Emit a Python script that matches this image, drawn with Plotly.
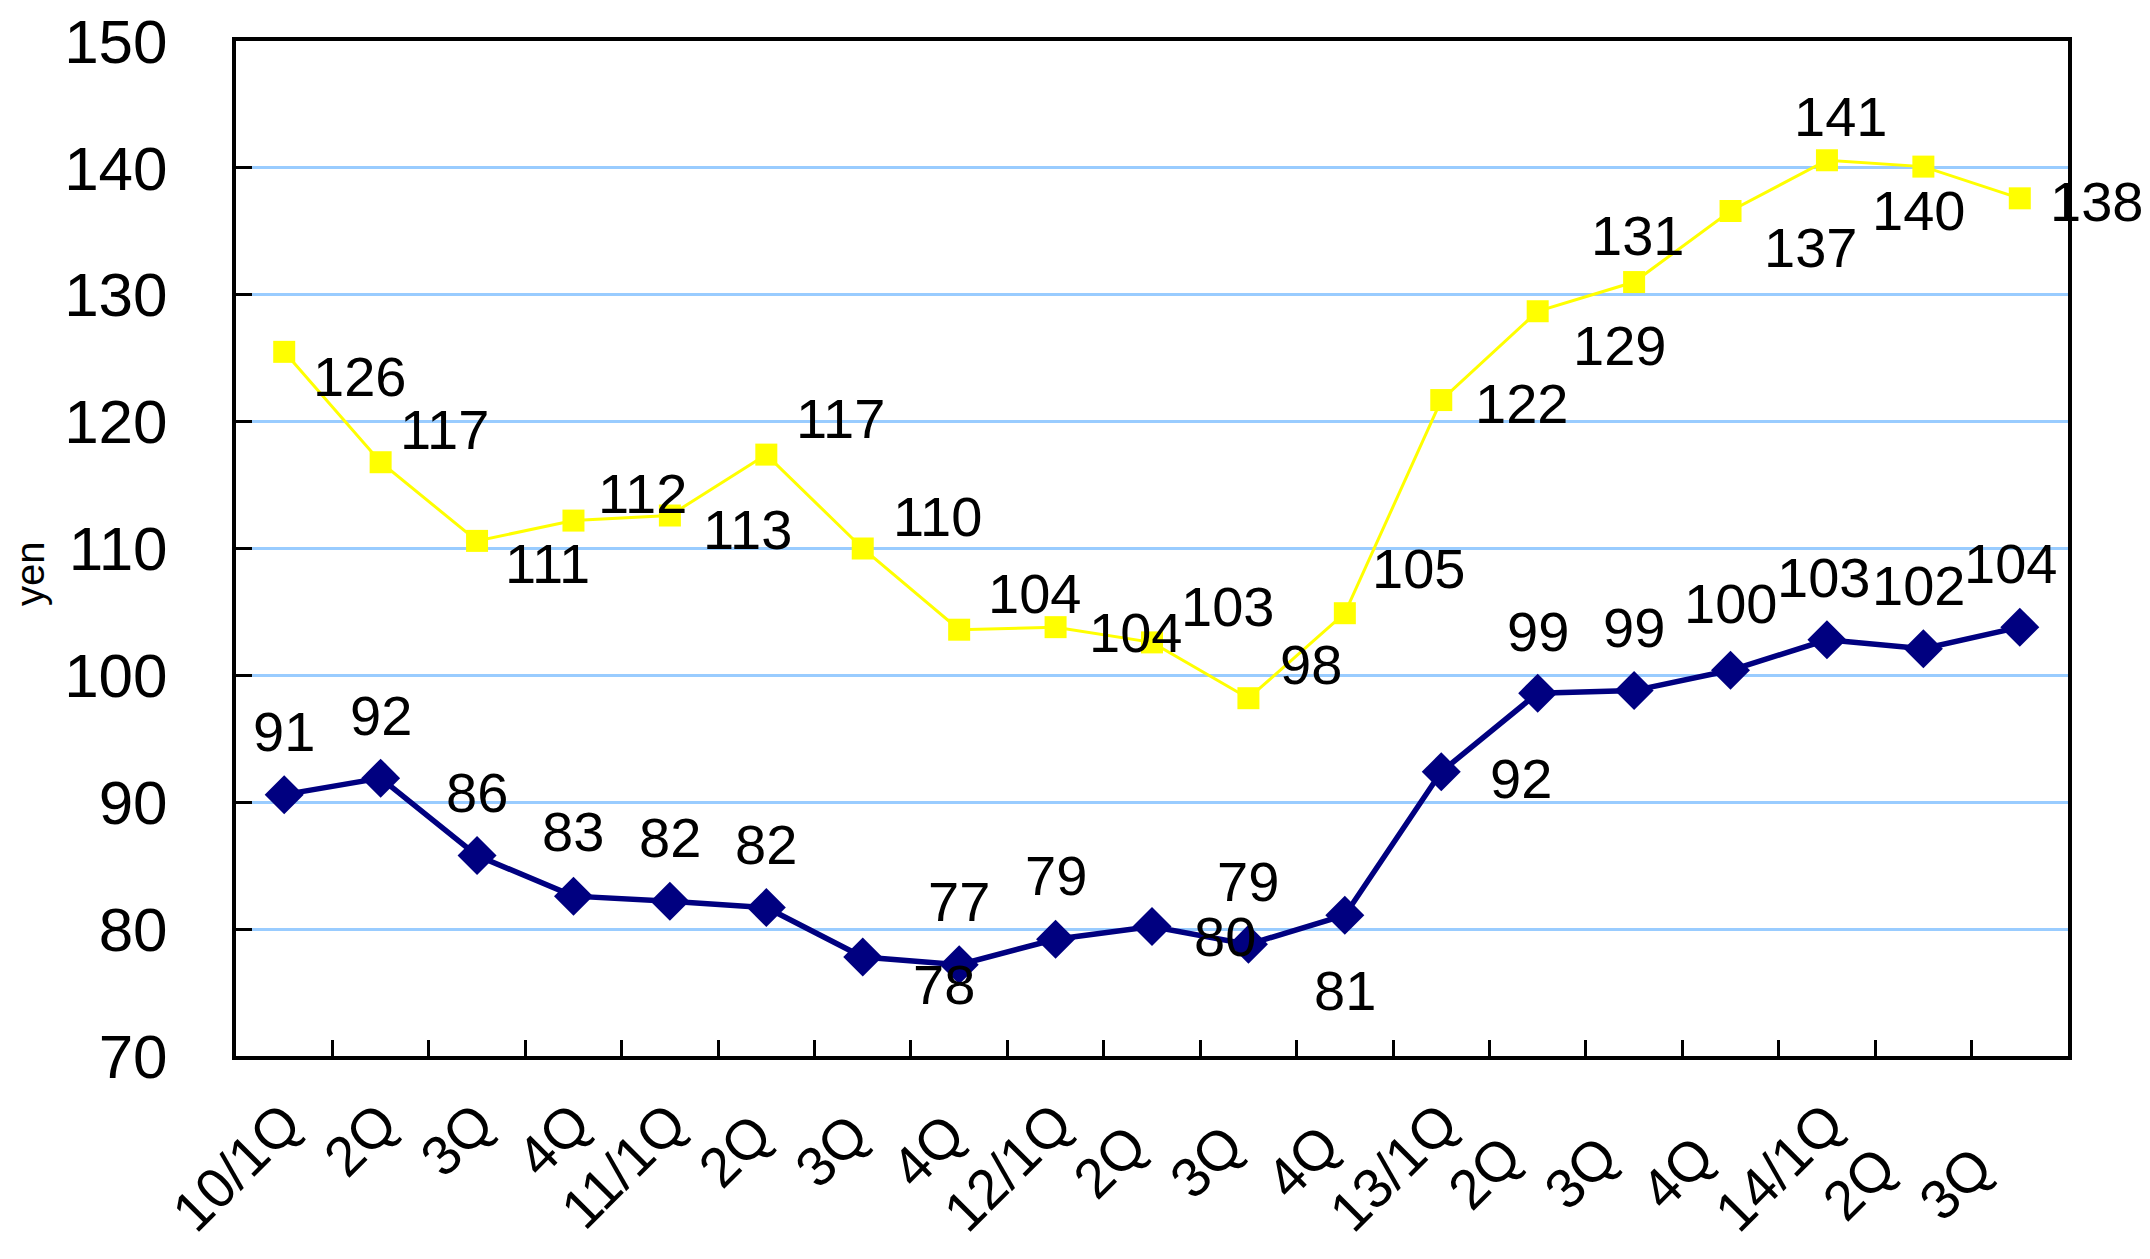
import plotly.graph_objects as go

# Quarterly average exchange rates (yen)
quarters = ["10/1Q", "2Q", "3Q", "4Q", "11/1Q", "2Q ", "3Q ", "4Q ", "12/1Q", "2Q  ",
            "3Q  ", "4Q  ", "13/1Q", "2Q   ", "3Q   ", "4Q   ", "14/1Q", "2Q    ", "3Q    "]
yen_per_euro = [125.5, 116.8, 110.6, 112.2, 112.6, 117.4, 110.0, 103.6, 103.8, 102.6,
                98.2, 104.9, 121.7, 128.7, 131.0, 136.6, 140.6, 140.1, 137.6]
yen_per_dollar = [90.6, 91.9, 85.8, 82.6, 82.2, 81.7, 77.8, 77.2, 79.2, 80.2,
                  78.8, 81.1, 92.4, 98.6, 98.8, 100.4, 102.8, 102.1, 103.8]

# label offsets in pixels (dx right, dy up) for each point
euro_dx = [75, 64, 70, 69, 78, 74, 75, 75, 80, 75, 63, 74, 80, 82, 3, 80, 14, -5, 77]
euro_dy = [-25, 33, -23, 27, -14, 36, 32, 36, -5, 36, 34, 45, -3, -34, 47, -36, 44, -44, -3]
dollar_dx = [0, 0, 0, 0, 0, 0, 81, 0, 0, 73, 0, 0, 80, 0, 0, 0, -3, -5, -9]
dollar_dy = [63, 63, 63, 65, 64, 63, -27, 63, 64, -10, 63, -75, -7, 62, 63, 67, 62, 63, 64]

FONT = "Liberation Sans, Arial, sans-serif"


def fmt(v):
    return str(int(v + 0.5))


fig = go.Figure()
fig.add_trace(go.Scatter(
    x=quarters, y=yen_per_euro, mode="lines+markers",
    line=dict(color="#FFFF00", width=3),
    marker=dict(symbol="square", size=22, color="#FFFF00"),
    cliponaxis=False, showlegend=False,
))
fig.add_trace(go.Scatter(
    x=quarters, y=yen_per_dollar, mode="lines+markers",
    line=dict(color="#000080", width=5.5),
    marker=dict(symbol="diamond", size=30, color="#000080"),
    cliponaxis=False, showlegend=False,
))

annotations = []
for q, v, dx, dy in zip(quarters, yen_per_euro, euro_dx, euro_dy):
    annotations.append(dict(x=q, y=v, text=fmt(v), showarrow=False,
                            xshift=dx, yshift=dy, font=dict(size=56, color="black", family=FONT)))
for q, v, dx, dy in zip(quarters, yen_per_dollar, dollar_dx, dollar_dy):
    annotations.append(dict(x=q, y=v, text=fmt(v), showarrow=False,
                            xshift=dx, yshift=dy, font=dict(size=56, color="black", family=FONT)))
annotations.append(dict(xref="paper", yref="y", x=0, y=108, xshift=-206, xanchor="center",
                        text="yen", textangle=-90, showarrow=False,
                        font=dict(size=40, color="black", family=FONT)))

fig.update_layout(
    width=2150, height=1259,
    margin=dict(l=236, r=82, t=41, b=203),
    paper_bgcolor="white", plot_bgcolor="white",
    font=dict(family=FONT, color="black"),
    annotations=annotations,
    xaxis=dict(
        type="category", tickson="boundaries", ticks="inside", ticklen=16,
        tickwidth=3, tickcolor="black", tickangle=-45,
        tickfont=dict(size=56, family=FONT), ticklabelstandoff=8,
        showline=True, linecolor="black", linewidth=4, mirror=True,
        showgrid=False, range=[-0.5, 18.5], automargin=False,
    ),
    yaxis=dict(
        range=[70, 150], tickvals=[70, 80, 90, 100, 110, 120, 130, 140, 150],
        ticks="inside", ticklen=16, tickwidth=3, tickcolor="black",
        tickfont=dict(size=62, family=FONT), ticklabelstandoff=52,
        showline=True, linecolor="black", linewidth=4, mirror=True,
        showgrid=True, gridcolor="#99CCFF", gridwidth=3, zeroline=False,
        automargin=False,
    ),
)

fig.write_html("out.html")
